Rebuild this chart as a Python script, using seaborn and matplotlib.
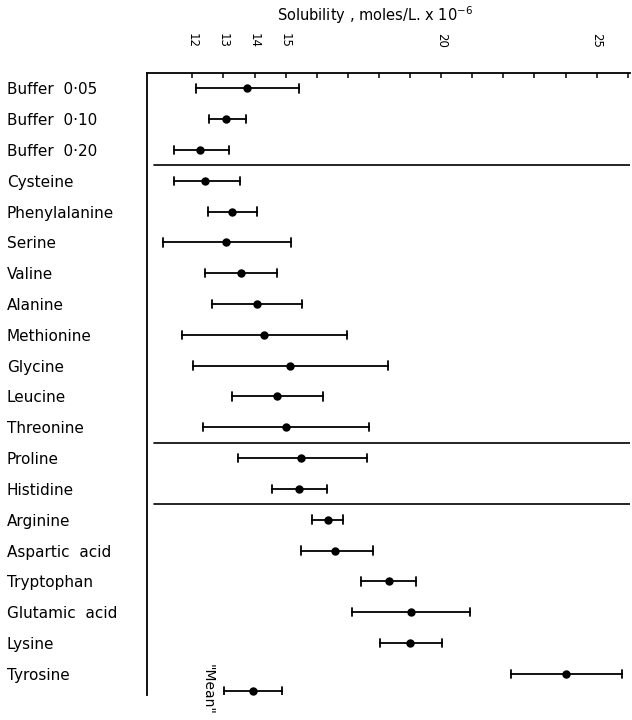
import numpy as np
import pandas as pd
import matplotlib
matplotlib.use("Agg")
import matplotlib.pyplot as plt
import seaborn as sns

# ---------------- data ----------------
labels = [
    "Buffer  0·05", "Buffer  0·10", "Buffer  0·20",
    "Cysteine", "Phenylalanine", "Serine", "Valine", "Alanine",
    "Methionine", "Glycine", "Leucine", "Threonine",
    "Proline", "Histidine",
    "Arginine", "Aspartic  acid", "Tryptophan", "Glutamic  acid",
    "Lysine", "Tyrosine",
]
low = [12.12, 12.55, 11.40, 11.41, 12.51, 11.05, 12.41, 12.63, 11.67, 12.03,
       13.29, 12.36, 13.46, 14.57, 15.84, 15.50, 17.42, 17.14, 18.04, 22.24]
mid = [13.75, 13.08, 12.25, 12.42, 13.29, 13.08, 13.56, 14.07, 14.32, 15.14,
       14.71, 15.01, 15.49, 15.42, 16.37, 16.60, 18.32, 19.02, 19.00, 24.01]
high = [15.42, 13.72, 13.19, 13.53, 14.07, 15.17, 14.73, 15.54, 16.97, 18.30,
        16.21, 17.69, 17.61, 16.32, 16.86, 17.80, 19.19, 20.93, 20.02, 25.82]

mean_label = '"Mean"'
mean_low, mean_mid, mean_high = 13.03, 13.94, 14.87

tick_values = list(range(12, 27))
shown_ticks = [12, 13, 14, 15, 20, 25]
title = "Solubility , moles/L. x 10$^{-6}$"
group_breaks = [2.5, 11.5, 13.5]

# ---------------- layout ----------------
MEAN_GAP = 0.56  # vertical offset of the "Mean" row below the last row

rows = []
for i, (lo, md, hi) in enumerate(zip(low, mid, high)):
    for v in (lo, md, hi):
        rows.append({"pos": float(i), "value": v})
mean_pos = len(labels) - 1 + MEAN_GAP
for v in (mean_low, mean_mid, mean_high):
    rows.append({"pos": mean_pos, "value": v})
df = pd.DataFrame(rows)

sns.set_style("white")
plt.rcParams["font.family"] = ["DejaVu Sans"]
plt.rcParams["text.color"] = "black"
plt.rcParams["xtick.color"] = "black"
plt.rcParams["ytick.color"] = "black"
plt.rcParams["axes.labelcolor"] = "black"

fig = plt.figure(figsize=(6.32, 7.2), dpi=100)
ax = fig.add_axes([0.2321, 0.0347, 0.7647, 0.8635])

cap_len = 0.275
sns.pointplot(
    data=df, x="value", y="pos", orient="y", native_scale=True,
    estimator="median", errorbar=lambda v: (v.min(), v.max()),
    linestyle="none", color="black", marker="o", markersize=4,
    capsize=cap_len / MEAN_GAP, err_kws={"linewidth": 1.3}, ax=ax,
)

for b in group_breaks:
    ax.axhline(b, xmin=0.015, xmax=1.0, color="black", lw=1.2)

ax.set_xlim(10.534, 26.07)
ax.set_ylim(19.69, -0.487)

ax.xaxis.tick_top()
ax.set_xticks(tick_values)
ax.set_xticklabels([str(v) if v in shown_ticks else "" for v in tick_values],
                   rotation=-90, fontsize=8.5)
ax.tick_params(axis="x", direction="in", length=3.8, width=1.1, pad=18,
               top=True, bottom=False, labeltop=True, labelbottom=False,
               colors="black")

ax.set_yticks(range(len(labels)))
ax.set_yticklabels(labels, ha="left", fontsize=11, color="black")
ax.tick_params(axis="y", length=0, pad=100.6, left=True)

ax.set_xlabel("")
ax.set_ylabel("")
for s in ("right", "bottom"):
    ax.spines[s].set_visible(False)
for s in ("top", "left"):
    ax.spines[s].set_color("black")
    ax.spines[s].set_linewidth(1.3)

ax.text(12.5, 19.52, mean_label, rotation=-90, ha="center", va="center",
        fontsize=10, color="black", clip_on=False)

fig.text(375 / 632, 1 - 15 / 720, title, ha="center", va="center",
         fontsize=10.5, color="black")

fig.savefig("out.png", dpi=100, facecolor="white")
